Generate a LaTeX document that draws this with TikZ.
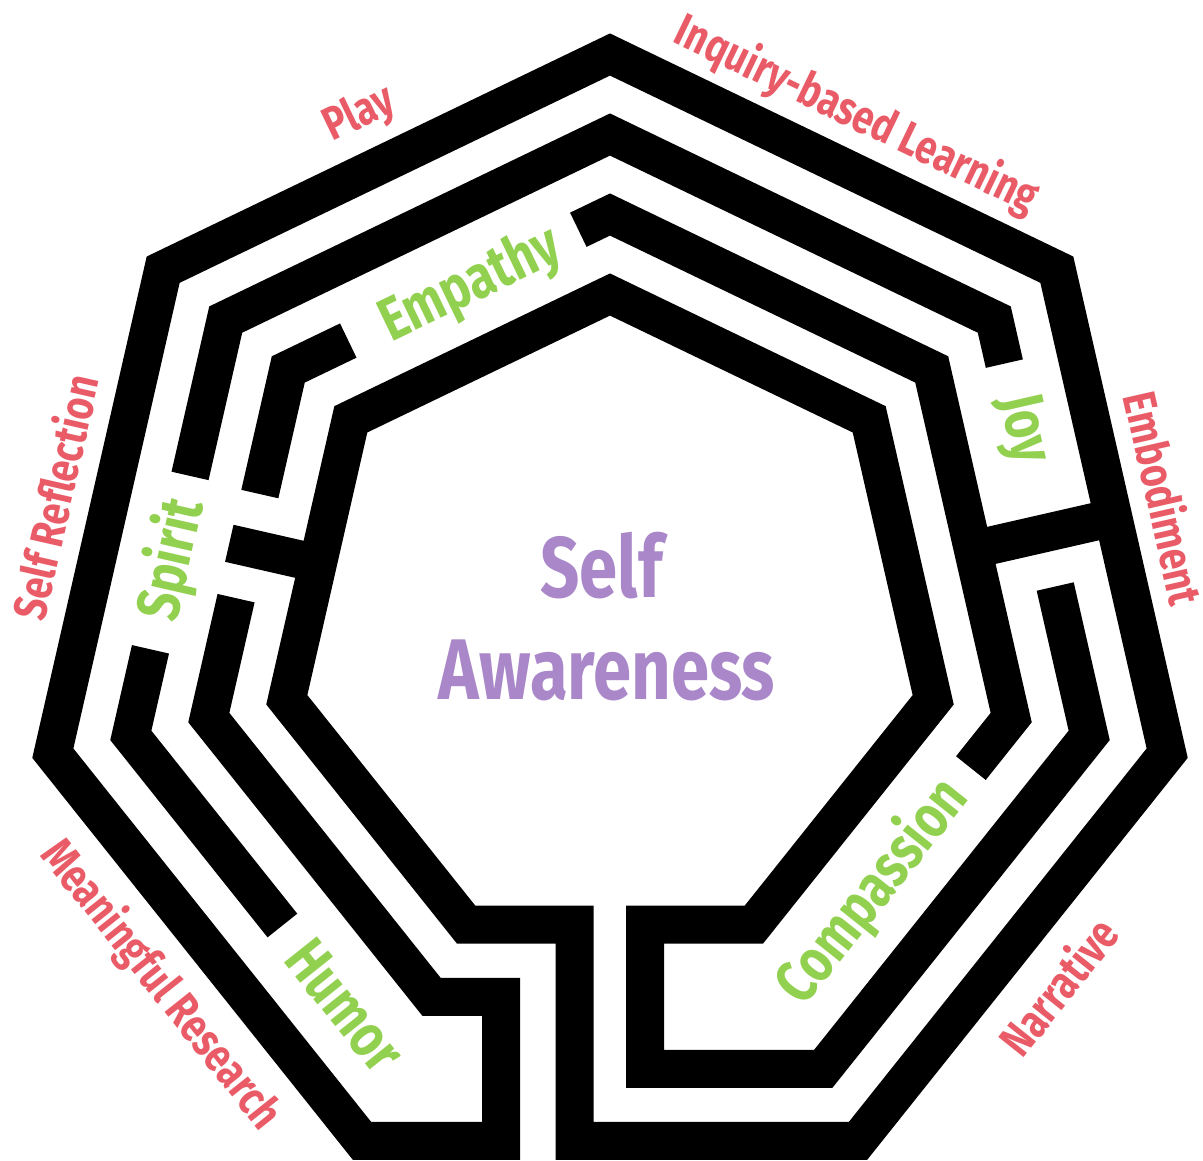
\documentclass[tikz,border=0pt]{standalone}
\usepackage{fontspec}
\newfontfamily\labfont[FakeStretch=0.8]{Fira Sans}
\definecolor{lred}{HTML}{E95C67}
\definecolor{lgreen}{HTML}{92D050}
\definecolor{lpurple}{HTML}{A987C8}
\begin{document}
\begin{tikzpicture}[x=0.02cm,y=-0.02cm,
  wall/.style={draw=black, line width=0.76cm, line join=miter, line cap=butt},
  redlab/.style={text=lred, font=\labfont\bfseries\fontsize{26.6}{28}\selectfont, inner sep=0pt},
  greenlab/.style={text=lgreen, font=\labfont\bfseries\fontsize{34.5}{36}\selectfont, inner sep=0pt},
  purplab/.style={text=lpurple, font=\labfont\bfseries\fontsize{49}{50}\selectfont, inner sep=0pt}]
\useasboundingbox (0,0) rectangle (1203,1160);
% band 1 (outermost)
\coordinate (b1k0) at (610,54.5);
\coordinate (b1k1) at (163.17,269.68);
\coordinate (b1k2) at (52.83,753.17);
\coordinate (b1k3) at (362.04,1140.9);
\coordinate (b1k4) at (857.96,1140.9);
\coordinate (b1k5) at (1167.17,753.17);
\coordinate (b1k6) at (1056.83,269.68);
% band 2
\coordinate (b2k0) at (610,134.5);
\coordinate (b2k1) at (225.73,319.55);
\coordinate (b2k2) at (130.82,735.37);
\coordinate (b2k3) at (396.75,1068.83);
\coordinate (b2k4) at (823.25,1068.83);
\coordinate (b2k5) at (1089.18,735.37);
\coordinate (b2k6) at (994.27,319.55);
% band 3
\coordinate (b3k0) at (610,214.5);
\coordinate (b3k1) at (288.27,369.43);
\coordinate (b3k2) at (208.82,717.57);
\coordinate (b3k3) at (431.46,996.75);
\coordinate (b3k4) at (788.54,996.75);
\coordinate (b3k5) at (1011.18,717.57);
\coordinate (b3k6) at (931.73,369.43);
% band 4 (inner)
\coordinate (b4k0) at (610,294.5);
\coordinate (b4k1) at (350.82,419.31);
\coordinate (b4k2) at (286.81,699.77);
\coordinate (b4k3) at (466.17,924.67);
\coordinate (b4k4) at (753.83,924.67);
\coordinate (b4k5) at (933.19,699.77);
\coordinate (b4k6) at (869.18,419.31);
% main continuous wall
\draw[wall] (236.07,598.16) -- (b3k2) -- (b3k3) -- (501,996.75) -- (501,1140.9)
  -- (b1k3) -- (b1k2) -- (b1k1) -- (b1k0) -- (b1k6) -- (b1k5) -- (b1k4)
  -- (574.5,1140.9) -- (574.5,924.67) -- (b4k3) -- (b4k2) -- (b4k1) -- (b4k0)
  -- (b4k6) -- (b4k5) -- (b4k4) -- (645,924.67) -- (645,1068.83) -- (b2k4)
  -- (b2k5) -- (1055.2,586.51);
% band 2 upper piece
\draw[wall] (1004.33,363.63) -- (b2k6) -- (b2k0) -- (b2k1) -- (190.04,475.90);
% band 3 upper-left piece
\draw[wall] (348.27,340.54) -- (b3k1) -- (259.83,494.06);
% band 3 right piece
\draw[wall] (578.31,229.76) -- (b3k0) -- (b3k6) -- (b3k5) -- (970.88,768.10);
% band 2 lower-left piece
\draw[wall] (150.47,649.3) -- (b2k2) -- (282.4,925.5);
% cross bars
\draw[wall] (972.85,549.6) -- (1113.43,517.51);
\draw[wall] (317.9,563.5) -- (229.3,543.3);
% outer labels
\node[redlab, rotate=25.71] (play) at (359.7,114.7) {Play};
\node[redlab, rotate=-25.71] (inquiry) at (856.5,115.5) {Inquiry-based Learning};
\node[redlab, rotate=-77.14] (embodiment) at (1165,498) {Embodiment};
\node[redlab, rotate=51.43] (narrative) at (1057.7,985.8) {Narrative};
\node[redlab, rotate=-51.43] (research) at (160.7,985) {Meaningful Research};
\node[redlab, rotate=77.14] (reflection) at (54,497) {Self Reflection};
% inner labels
\node[greenlab, rotate=25.71] (empathy) at (471,286) {Empathy};
\node[greenlab, rotate=-77.14] (joy) at (1021.8,429.5) {Joy};
\node[greenlab, rotate=51.43] (compassion) at (873,892) {Compassion};
\node[greenlab, rotate=-51.43] (humor) at (345.2,1006) {Humor};
\node[greenlab, rotate=77.14] (spirit) at (172.5,560) {Spirit};
% centre
\node[purplab] (self) at (601.5,566) {Self};
\node[purplab] (awareness) at (607,670) {Awareness};
\end{tikzpicture}
\end{document}
